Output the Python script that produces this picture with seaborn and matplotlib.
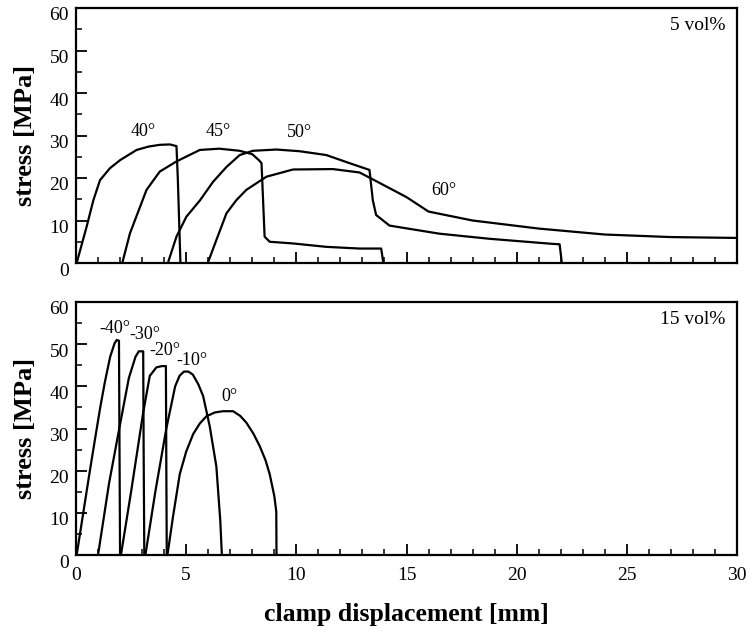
import numpy as np
import pandas as pd
import matplotlib
matplotlib.use("Agg")
import matplotlib.pyplot as plt
import matplotlib.transforms as mtransforms
import seaborn as sns

# ---------------- data: 5 vol% (top panel) ----------------
top_labels = ["40°", "45°", "50°", "60°"]
top_x = [
    [0.03, 0.48, 0.79, 1.09, 1.54, 2.0, 2.75, 3.3, 3.8, 4.26, 4.56, 4.62, 4.74],
    [2.1, 2.45, 3.2, 3.8, 4.56, 5.62, 6.5, 7.43, 8.0, 8.3, 8.42, 8.56, 8.79, 9.85, 11.36, 12.87, 13.85, 13.95],
    [4.17, 4.56, 5.01, 5.62, 6.22, 6.83, 7.43, 8.03, 9.09, 10.15, 11.36, 12.41, 13.32, 13.47, 13.62, 14.23,
     16.49, 18.76, 21.63, 21.95, 22.05],
    [5.98, 6.37, 6.83, 7.28, 7.73, 8.64, 9.85, 11.66, 12.87, 13.5, 15.0, 16.0, 18.0, 21.0, 24.0, 27.0, 30.0],
]
top_y = [
    [0.0, 8.5, 14.8, 19.5, 22.3, 24.2, 26.6, 27.4, 27.8, 27.9, 27.5, 20.0, 0.0],
    [0.0, 7.0, 17.2, 21.5, 23.9, 26.6, 26.9, 26.4, 25.6, 24.2, 23.5, 6.2, 5.0, 4.6, 3.8, 3.4, 3.4, 0.0],
    [0.0, 6.2, 10.9, 14.7, 19.1, 22.6, 25.4, 26.4, 26.7, 26.3, 25.4, 23.5, 21.9, 14.8, 11.3, 8.8,
     6.9, 5.7, 4.5, 4.4, 0.0],
    [0.0, 5.4, 11.7, 14.8, 17.2, 20.3, 22.0, 22.1, 21.3, 19.6, 15.5, 12.1, 10.0, 8.1, 6.7, 6.1, 5.9],
]
top_label_pos = [(3.06, 30.9), (6.46, 30.9), (10.15, 30.6), (16.7, 17.1)]

# ---------------- data: 15 vol% (bottom panel) ----------------
bot_labels = ["-40°", "-30°", "-20°", "-10°", "0°"]
bot_x = [
    [0.03, 0.3, 0.6, 0.86, 1.1, 1.31, 1.55, 1.75, 1.85, 1.95, 1.97, 2.0],
    [1.0, 1.5, 2.0, 2.4, 2.7, 2.85, 3.05, 3.07, 3.1],
    [2.04, 2.5, 3.05, 3.35, 3.65, 3.9, 4.08, 4.1, 4.12],
    [3.15, 3.6, 4.1, 4.3, 4.5, 4.7, 4.9, 5.1, 5.3, 5.55, 5.77, 6.07, 6.37, 6.55, 6.62],
    [4.15, 4.4, 4.71, 5.0, 5.32, 5.62, 5.92, 6.3, 6.67, 7.13, 7.45, 7.73, 8.05, 8.34, 8.6, 8.79, 9.0, 9.09, 9.1],
]
bot_y = [
    [0.0, 9.0, 19.0, 27.4, 35.0, 41.0, 47.0, 50.2, 51.0, 50.8, 30.0, 0.0],
    [0.0, 17.0, 31.0, 42.0, 47.0, 48.3, 48.3, 25.0, 0.0],
    [0.0, 15.0, 33.8, 42.5, 44.5, 44.8, 44.8, 20.0, 0.0],
    [0.0, 15.0, 30.0, 35.0, 40.0, 42.5, 43.5, 43.5, 42.8, 40.5, 37.7, 30.5, 21.0, 8.0, 0.0],
    [0.0, 9.0, 19.2, 24.5, 28.7, 31.2, 32.9, 33.8, 34.1, 34.1, 33.0, 31.4, 28.8, 25.8, 22.5, 19.2, 14.0, 10.3, 0.0],
]
bot_label_pos = [(1.77, 53.8), (3.13, 52.4), (4.03, 48.4), (5.26, 46.2), (6.98, 37.7)]

panel_titles = ["5 vol%", "15 vol%"]
x_ticks = [0, 5, 10, 15, 20, 25, 30]
y_ticks = [0, 10, 20, 30, 40, 50, 60]

# ---------------- style ----------------
sns.set_style("ticks")
plt.rcParams["font.family"] = ["Liberation Serif", "DejaVu Serif"]
plt.rcParams["text.color"] = "black"
plt.rcParams["axes.labelcolor"] = "black"
plt.rcParams["xtick.color"] = "black"
plt.rcParams["ytick.color"] = "black"

fig = plt.figure(figsize=(7.51, 6.34), dpi=100)
ax_top = fig.add_axes([76 / 751, 1 - 263 / 634, 661 / 751, 255 / 634])
ax_bot = fig.add_axes([76 / 751, 1 - 555 / 634, 661 / 751, 253 / 634])


def draw_panel(ax, xs, ys, labels, label_pos, title, show_x):
    for xv, yv in zip(xs, ys):
        df = pd.DataFrame({"x": xv, "y": yv})
        sns.lineplot(data=df, x="x", y="y", sort=False, estimator=None,
                     color="black", linewidth=1.6, ax=ax)
    for lab, (lx, ly) in zip(labels, label_pos):
        ax.text(lx, ly, lab, ha="center", va="center", fontsize=13, color="black")
    ax.text(0.982, 0.965, title, transform=ax.transAxes, ha="right", va="top",
            fontsize=14, color="black")
    ax.set_xlim(0, 30)
    ax.set_ylim(0, 60)
    ax.set_xticks(x_ticks)
    ax.set_yticks(y_ticks)
    ax.set_xticks(np.arange(0, 31, 1), minor=True)
    ax.set_yticks(np.arange(0, 61, 5), minor=True)
    ax.tick_params(axis="both", which="major", direction="in", length=8, width=1.3,
                   labelsize=14, colors="black", labelcolor="black")
    ax.tick_params(axis="both", which="minor", direction="in", length=4, width=1.1,
                   colors="black")
    ax.tick_params(axis="x", pad=8.5)
    ax.tick_params(axis="y", pad=5)
    for sp in ax.spines.values():
        sp.set_visible(True)
        sp.set_linewidth(1.6)
        sp.set_color("black")
    ax.set_ylabel("stress [MPa]", fontsize=19, fontweight="bold", labelpad=9, color="black")
    if show_x:
        ax.set_xlabel("clamp displacement [mm]", fontsize=18.5, fontweight="bold",
                      labelpad=14, color="black")
    else:
        ax.set_xlabel("")
        ax.set_xticklabels([])
    shift = mtransforms.ScaledTranslation(0, -0.06, fig.dpi_scale_trans)
    for lbl in ax.get_yticklabels():
        lbl.set_transform(lbl.get_transform() + shift)


draw_panel(ax_top, top_x, top_y, top_labels, top_label_pos, panel_titles[0], False)
draw_panel(ax_bot, bot_x, bot_y, bot_labels, bot_label_pos, panel_titles[1], True)

fig.savefig("out.png", dpi=100)
